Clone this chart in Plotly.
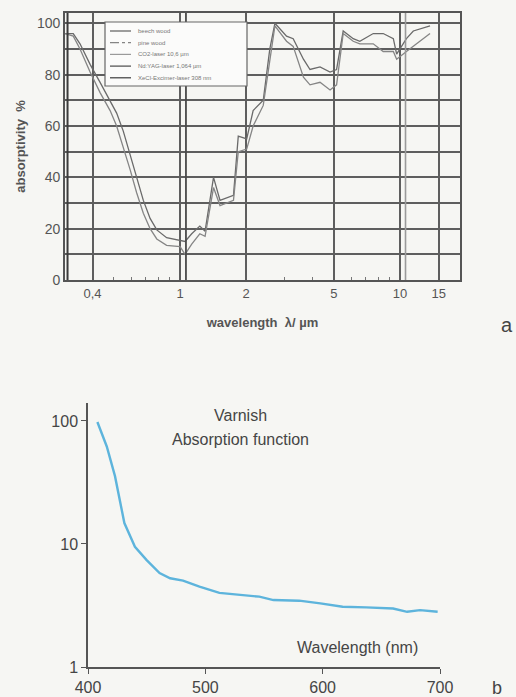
import plotly.graph_objects as go

# ---------------- Chart a data ----------------
wavelength_um = [0.30, 0.327, 0.351, 0.39, 0.433, 0.481, 0.515, 0.552, 0.593, 0.635,
                 0.681, 0.731, 0.784, 0.869, 1.0, 1.054, 1.13, 1.23, 1.30, 1.42,
                 1.52, 1.75, 1.84, 2.01, 2.15, 2.39, 2.56, 2.70, 3.05, 3.27,
                 3.64, 3.90, 4.33, 4.81, 5.15, 5.52, 6.13, 6.57, 7.56, 8.39,
                 9.33, 9.66, 10.7, 11.5, 13.7]
beech_wood = [96, 96, 92, 84, 77, 70, 65, 58, 49, 40,
              31, 24, 19.5, 16.5, 15.5, 15, 18, 21, 19, 40,
              31, 33, 56, 55, 66, 70, 90, 100, 95, 94,
              86, 82, 83, 81, 82, 97, 94, 93, 96, 96,
              94, 88, 94, 97, 99]
pine_wood = [96, 95, 90, 81, 73, 66, 60, 52, 43, 34,
             26, 20, 16, 13.5, 13, 10, 14, 18, 17, 36,
             29, 31, 50, 51, 60, 68, 86, 99, 93, 91,
             79, 76, 77, 74, 76, 96, 93, 92, 92, 89,
             89, 86, 89, 91, 96]
laser_names = ["CO2-laser 10,6 µm", "Nd:YAG-laser 1,064 µm", "XeCl-Excimer-laser 308 nm"]
laser_wavelengths = [10.6, 1.064, 0.308]
legend_names = ["beech wood", "pine wood"] + laser_names
x_ticks_a = [0.4, 1, 2, 5, 10, 15]
x_ticktext_a = ["0,4", "1", "2", "5", "10", "15"]
x_minor_a = [0.5, 0.6, 0.7, 0.8, 0.9, 3, 4, 6, 7, 8, 9]
y_ticks_a = [0, 10, 20, 30, 40, 50, 60, 70, 80, 90, 100]
y_ticktext_a = ["0", "", "20", "", "40", "", "60", "", "80", "", "100"]

# ---------------- Chart b data ----------------
wavelength_nm = [408, 416, 423, 431, 440, 450, 461, 470, 481, 495, 512, 529,
                 546, 558, 580, 598, 617, 637, 660, 672, 683, 698]
varnish_absorption = [98, 62, 35.6, 14.8, 9.5, 7.4, 5.8, 5.26, 5.03, 4.5, 4.0, 3.85,
                      3.73, 3.5, 3.46, 3.29, 3.09, 3.05, 2.99, 2.81, 2.9, 2.81]
x_ticks_b = [400, 500, 600, 700]
y_ticks_b = [1, 10, 100]

W, H = 516, 697
BG = "#f6f6f3"
GRID = "#5e5e5e"
TXT_A = "#555555"
TXT_B = "#454545"


def px_x(p):
    return p / W


def px_y(p):
    return 1 - p / H


fig = go.Figure()

style_beech = dict(color="#6a6a6a", width=1.3)
style_pine = dict(color="#858585", width=1.3)
laser_styles = [dict(color="#9a9a9a", width=1.6),
                dict(color="#4a4a4a", width=1.8),
                dict(color="#3c3c3c", width=2)]

fig.add_trace(go.Scatter(x=wavelength_um, y=beech_wood, mode="lines", name=legend_names[0],
                         line=style_beech, xaxis="x", yaxis="y"))
fig.add_trace(go.Scatter(x=wavelength_um, y=pine_wood, mode="lines", name=legend_names[1],
                         line=style_pine, xaxis="x", yaxis="y"))
for name, lam, st in zip(laser_names, laser_wavelengths, laser_styles):
    fig.add_trace(go.Scatter(x=[lam, lam], y=[0, 104], mode="lines", name=name,
                             line=st, xaxis="x", yaxis="y"))

fig.add_trace(go.Scatter(x=wavelength_nm, y=varnish_absorption, mode="lines",
                         line=dict(color="#5db4dc", width=2.4), name="Varnish",
                         xaxis="x2", yaxis="y2"))

fig.update_layout(
    width=W, height=H,
    margin=dict(l=0, r=0, t=0, b=0),
    paper_bgcolor=BG, plot_bgcolor=BG,
    font=dict(family="Liberation Sans, Arial, sans-serif", color=TXT_A),
    showlegend=False,
    xaxis=dict(domain=[px_x(65), px_x(460)], type="log", range=[-0.523, 1.273],
               tickmode="array", tickvals=x_ticks_a, ticktext=x_ticktext_a,
               showgrid=True, gridcolor=GRID, gridwidth=1.5,
               showline=True, linecolor="#555555", linewidth=1.8, mirror=True,
               ticks="", tickfont=dict(size=13, color=TXT_A), zeroline=False,
               minor=dict(tickmode="array", tickvals=x_minor_a, ticks="inside",
                          ticklen=3, tickcolor="#777777", showgrid=False),
               title=dict(text="<b>wavelength  λ/ µm</b>", font=dict(size=13, color=TXT_A),
                          standoff=18),
               automargin=False, anchor="y"),
    yaxis=dict(domain=[px_y(280), px_y(13)], range=[0, 104],
               tickmode="array", tickvals=y_ticks_a, ticktext=y_ticktext_a,
               showgrid=True, gridcolor=GRID, gridwidth=1.5,
               showline=True, linecolor="#555555", linewidth=1.8, mirror=True,
               ticks="", tickfont=dict(size=14, color=TXT_A), zeroline=False,
               title=dict(text="<b>absorptivity  %</b>", font=dict(size=13, color=TXT_A),
                          standoff=8),
               automargin=False, anchor="x"),
    xaxis2=dict(domain=[px_x(88), px_x(440)], range=[400, 700],
                tickmode="array", tickvals=x_ticks_b,
                showgrid=False, zeroline=False, showline=True, linecolor="#555555",
                linewidth=1.5, ticks="outside", ticklen=5, tickcolor="#555555",
                tickfont=dict(size=16, color=TXT_B), automargin=False, anchor="y2"),
    yaxis2=dict(domain=[px_y(667), px_y(403)], type="log", range=[0, 2.146],
                tickmode="array", tickvals=y_ticks_b, ticktext=["1", "10", "100"],
                showgrid=False, zeroline=False, showline=True, linecolor="#555555",
                linewidth=1.5, ticks="outside", ticklen=5, tickcolor="#555555",
                tickfont=dict(size=16, color=TXT_B), automargin=False, anchor="x2"),
)

annotations = [
    dict(text="a", x=px_x(507), y=px_y(325), font=dict(size=20, color="#444444")),
    dict(text="b", x=px_x(497), y=px_y(688), font=dict(size=18, color="#444444")),
    dict(text="Varnish", x=px_x(240), y=px_y(415), font=dict(size=16, color=TXT_B)),
    dict(text="Absorption function", x=px_x(240), y=px_y(440), font=dict(size=16, color=TXT_B)),
    dict(text="Wavelength (nm)", x=px_x(357), y=px_y(647), font=dict(size=16, color=TXT_B)),
]
for a in annotations:
    a.update(xref="paper", yref="paper", showarrow=False, xanchor="center", yanchor="middle")

# compact legend box for chart a (drawn as layout decoration, styles from the traces)
shapes = [dict(type="rect", xref="paper", yref="paper",
               x0=px_x(105), x1=px_x(247), y0=px_y(86), y1=px_y(22),
               fillcolor="#fbfbfa", line=dict(color="#666666", width=1.2))]
entry_styles = [style_beech, dict(style_pine, dash="dashdot"),
                dict(laser_styles[0], width=1.2), dict(laser_styles[1], width=1.2),
                dict(laser_styles[2], width=1.2)]
for i, (name, st) in enumerate(zip(legend_names, entry_styles)):
    yy = px_y(31 + i * 11.7)
    shapes.append(dict(type="line", xref="paper", yref="paper",
                       x0=px_x(110), x1=px_x(131), y0=yy, y1=yy, line=st))
    annotations.append(dict(text=name, x=px_x(136), y=yy, xref="paper", yref="paper",
                            showarrow=False, xanchor="left", yanchor="middle",
                            font=dict(size=6, color="#777777")))

fig.update_layout(annotations=annotations, shapes=shapes)

fig.write_html("out.html", config={"displayModeBar": False},
               post_script="document.body.style.margin='0';document.body.style.background='%s';" % BG)
